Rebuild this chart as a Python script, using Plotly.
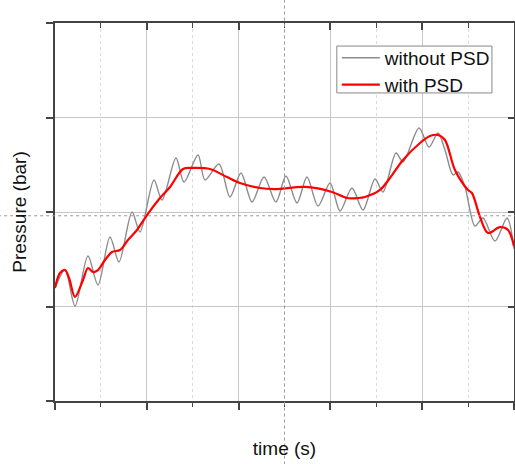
import plotly.graph_objects as go

# ---- data (axis units 0..5 s, 0..4 bar) ----
time_without = [0.000, 0.109, 0.218, 0.359, 0.468, 0.599, 0.697, 0.839, 0.926, 1.078,
                1.166, 1.318, 1.405, 1.558, 1.634, 1.786, 1.906, 2.026, 2.146, 2.277,
                2.407, 2.516, 2.636, 2.745, 2.865, 2.996, 3.105, 3.235, 3.355, 3.486,
                3.573, 3.715, 3.791, 3.965, 4.074, 4.172, 4.248, 4.336, 4.390, 4.466,
                4.575, 4.662, 4.793, 4.924, 5.000]
pressure_without = [1.196, 1.386, 1.005, 1.534, 1.228, 1.735, 1.471, 2.000, 1.788, 2.339,
                    2.127, 2.571, 2.317, 2.603, 2.339, 2.508, 2.159, 2.413, 2.106, 2.370,
                    2.106, 2.381, 2.095, 2.370, 2.063, 2.307, 2.011, 2.254, 2.021, 2.349,
                    2.212, 2.624, 2.529, 2.889, 2.688, 2.836, 2.656, 2.392, 2.423, 2.265,
                    1.852, 1.937, 1.693, 1.937, 1.610]

time_with = [0.000, 0.054, 0.109, 0.153, 0.218, 0.305, 0.359, 0.414, 0.468, 0.545,
             0.621, 0.708, 0.795, 0.893, 1.002, 1.144, 1.253, 1.394, 1.503, 1.688,
             1.874, 2.015, 2.233, 2.397, 2.723, 3.017, 3.181, 3.301, 3.377, 3.540,
             3.649, 3.791, 3.976, 4.085, 4.172, 4.248, 4.357, 4.499, 4.542, 4.630,
             4.717, 4.847, 4.935, 5.000]
pressure_with = [1.196, 1.354, 1.386, 1.302, 1.101, 1.280, 1.407, 1.365, 1.386, 1.492,
                 1.577, 1.598, 1.704, 1.810, 1.968, 2.148, 2.265, 2.455, 2.466, 2.455,
                 2.370, 2.307, 2.254, 2.243, 2.265, 2.212, 2.148, 2.148, 2.159, 2.233,
                 2.360, 2.550, 2.730, 2.804, 2.815, 2.762, 2.444, 2.233, 2.201, 1.947,
                 1.778, 1.841, 1.810, 1.640]

x_range = [0, 5]
y_range = [0, 4]
cursor_x = 2.5    # dashed cursor crosshair position (data units)
cursor_y = 1.96

FONT = "Liberation Sans, Arial, sans-serif"
AX = "#444444"
TXT = "#111111"

fig = go.Figure()
fig.add_trace(go.Scatter(x=time_without, y=pressure_without, name="without PSD",
                         legend="legend",
                         mode="lines", line=dict(color="#8c8c8c", width=1.4,
                                                 shape="spline", smoothing=0.85)))
fig.add_trace(go.Scatter(x=time_with, y=pressure_with, name="with PSD",
                         legend="legend2",
                         mode="lines", line=dict(color="#ff0000", width=2.2,
                                                 shape="spline", smoothing=0.9)))
# dummy trace to create the mirrored (top/right) axes with inward ticks
fig.add_trace(go.Scatter(x=[None], y=[None], xaxis="x2", yaxis="y2",
                         showlegend=False, hoverinfo="skip", mode="lines"))

leg_common = dict(xanchor="left", yanchor="top", bgcolor="rgba(0,0,0,0)",
                  borderwidth=0, font=dict(size=19, family=FONT, color=TXT),
                  itemwidth=38)

fig.update_layout(
    width=515, height=464,
    margin=dict(l=55, r=1, t=23, b=63, autoexpand=False),
    paper_bgcolor="white", plot_bgcolor="white",
    font=dict(family=FONT, size=19, color=TXT),
    showlegend=True,
    legend=dict(x=0.614, y=0.958, **leg_common),
    legend2=dict(x=0.614, y=0.887, **leg_common),
    xaxis=dict(range=x_range, dtick=1, tick0=0, showticklabels=False, automargin=False,
               ticks="outside", ticklen=7, tickwidth=1.5, tickcolor=AX,
               showline=True, linecolor=AX, linewidth=1.5,
               showgrid=True, gridcolor="#c6c6c6", gridwidth=1, zeroline=False,
               minor=dict(dtick=0.5, ticks="outside", ticklen=4, tickwidth=1.2,
                          tickcolor=AX, showgrid=True, gridcolor="#d9d9d9",
                          griddash="dot", gridwidth=1),
               title=dict(text="time (s)", standoff=33,
                          font=dict(size=19, family=FONT, color=TXT))),
    yaxis=dict(range=y_range, dtick=1, tick0=0, showticklabels=False, automargin=False,
               ticks="outside", ticklen=7, tickwidth=1.5, tickcolor=AX,
               showline=True, linecolor=AX, linewidth=1.5,
               showgrid=True, gridcolor="#c6c6c6", gridwidth=1, zeroline=False,
               title=dict(text="Pressure (bar)", standoff=15,
                          font=dict(size=19, family=FONT, color=TXT))),
    xaxis2=dict(range=x_range, overlaying="x", anchor="y", side="top", automargin=False,
                dtick=1, tick0=0, showticklabels=False,
                ticks="inside", ticklen=7, tickwidth=1.5, tickcolor=AX,
                showline=True, linecolor=AX, linewidth=2,
                showgrid=False, zeroline=False,
                minor=dict(dtick=0.5, ticks="inside", ticklen=5, tickwidth=1.2,
                           tickcolor=AX, showgrid=False)),
    yaxis2=dict(range=y_range, overlaying="y", anchor="x", side="right", automargin=False,
                dtick=1, tick0=0, showticklabels=False,
                ticks="inside", ticklen=6, tickwidth=1.5, tickcolor=AX,
                showline=True, linecolor=AX, linewidth=1.5,
                showgrid=False, zeroline=False),
)

# legend frame (white box behind the two legend entries)
fig.add_shape(type="rect", xref="paper", yref="paper", layer="above",
              x0=0.614, x1=0.952, y0=0.815, y1=0.939,
              line=dict(color="#888888", width=1), fillcolor="white")

# dashed cursor crosshair spanning the whole picture
xp = (cursor_x - x_range[0]) / (x_range[1] - x_range[0])
yp = (cursor_y - y_range[0]) / (y_range[1] - y_range[0])
fig.add_shape(type="line", xref="paper", yref="paper", x0=xp, x1=xp, y0=-0.2, y1=1.1,
              line=dict(color="#9a9a9a", width=1, dash="3px,3px"))
fig.add_shape(type="line", xref="paper", yref="paper", x0=-0.15, x1=1.05, y0=yp, y1=yp,
              line=dict(color="#9a9a9a", width=1, dash="3px,3px"))

post = ("document.body.style.margin='0';document.body.style.padding='0';"
        "document.body.style.overflow='hidden';"
        "var gd=document.getElementById('{plot_id}');"
        "Plotly.relayout(gd,{width:515,height:464});")

fig.write_html("out.html", post_script=post,
               config={"responsive": False, "displayModeBar": False})
